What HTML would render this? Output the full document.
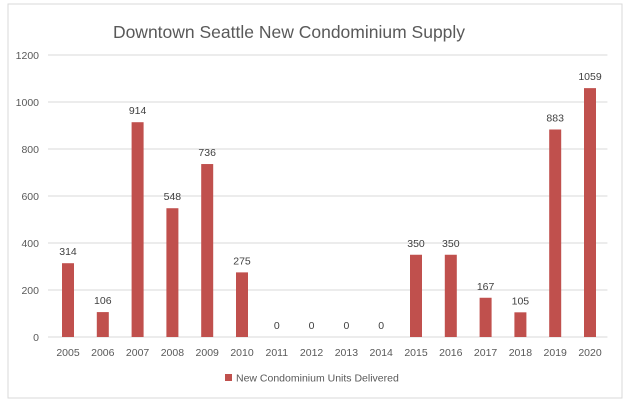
<!DOCTYPE html>
<html><head><meta charset="utf-8"><style>
body{margin:0;background:#fff;}
svg{display:block;font-family:"Liberation Sans",Calibri,sans-serif;}
</style></head><body>
<svg id="chart" width="629" height="403">
<rect x="8" y="4" width="614" height="394" fill="#fff" stroke="#d9d9d9"/>
<text x="289" y="38" text-anchor="middle" font-size="17.5" fill="#595959">Downtown Seattle New Condominium Supply</text>
<g id="grid"></g><g id="bars"></g><g id="xl"></g>
<g>
<rect x="225" y="374" width="7" height="7" fill="#c0504d"/>
<text x="236" y="381.5" font-size="10.5" fill="#595959">New Condominium Units Delivered</text>
</g>
</svg>
<script>
const categories=["2005","2006","2007","2008","2009","2010","2011","2012","2013","2014","2015","2016","2017","2018","2019","2020"];
const values=[314,106,914,548,736,275,0,0,0,0,350,350,167,105,883,1059];
const ticks=[0,200,400,600,800,1000,1200];
const NS="http://www.w3.org/2000/svg";
const L=50.6,R=607.4,Y0=337,Y1=55,MAX=1200;
const y=v=>Y0-(v/MAX)*(Y0-Y1);
const bw=(R-L)/categories.length;
const x=i=>L+bw*(i+0.5);
function mk(t,a,p){const e=document.createElementNS(NS,t);for(const k in a)e.setAttribute(k,a[k]);p.appendChild(e);return e;}
const g=document.getElementById('grid'),b=document.getElementById('bars'),xl=document.getElementById('xl');
ticks.forEach(t=>{
 const ln=mk('line',{x1:48,x2:R,y1:y(t),y2:y(t),stroke:'#d9d9d9'},g);
 
 
 const tx=mk('text',{x:39,y:y(t)+4,'text-anchor':'end','font-size':10.5,fill:'#595959'},g);
 tx.textContent=t;
 
 
});
categories.forEach((c,i)=>{
 const v=values[i];
 const r=mk('rect',{x:x(i)-6,y:y(v),width:12,height:Y0-y(v),fill:'#c0504d'},b);
 
 
 const vl=mk('text',{x:x(i),y:y(v)-8,'text-anchor':'middle','font-size':10.5,fill:'#404040'},b);
 vl.textContent=v;
 
 
 const cl=mk('text',{x:x(i),y:356,'text-anchor':'middle','font-size':10.5,fill:'#595959'},xl);
 cl.textContent=c;
 
 
});
</script>
</body></html>
